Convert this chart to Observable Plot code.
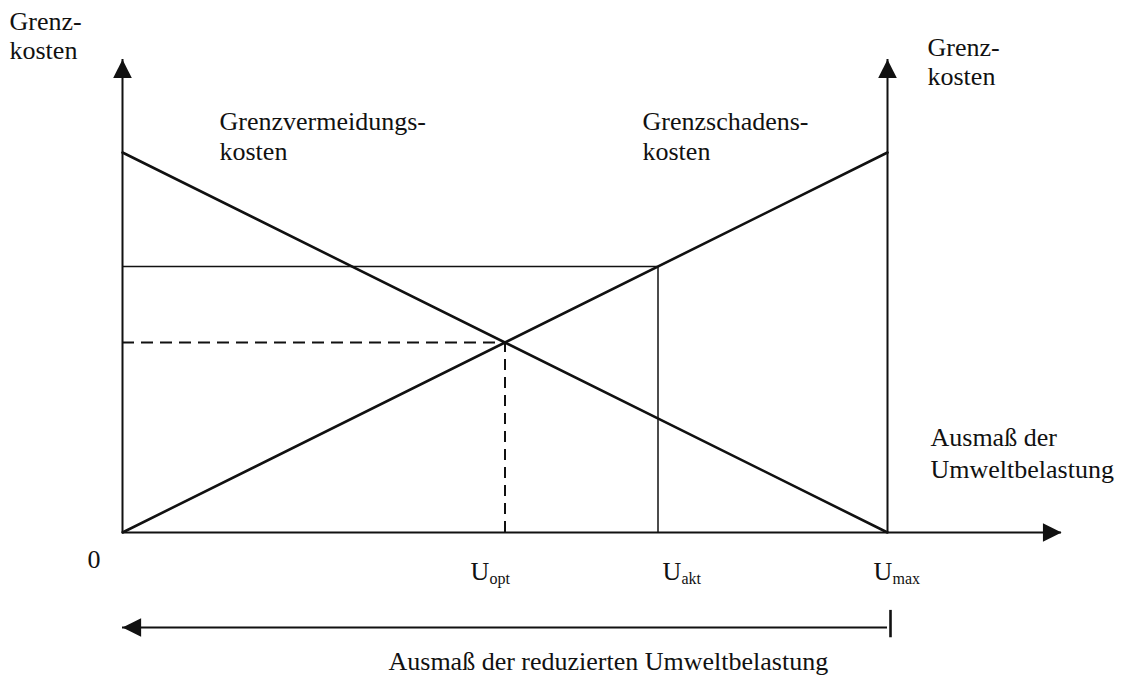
<!DOCTYPE html>
<html>
<head>
<meta charset="utf-8">
<script src="https://cdn.jsdelivr.net/npm/d3@7"></script>
<script src="https://cdn.jsdelivr.net/npm/@observablehq/plot@0.6"></script>
<style>
  html, body { margin: 0; padding: 0; background: #fff; }
  #chart { width: 1125px; height: 680px; }
</style>
</head>
<body>
<div id="chart"></div>
<script>
// ---- data ----
const U_MAX = 100;          // maximal environmental load
const U_OPT = 50;           // optimal load
const U_AKT = 70;           // current load
const K_OPT = 50;           // marginal cost at optimum
const K_AKT = 70;           // marginal damage cost at current load
const AXIS_TOP = 124.5;     // end of the cost axes
const AXIS_RIGHT = 122.75;  // end of the load axis
const REDUCTION_LEVEL = -25;// level of the "reduced load" arrow

const avoidanceCost = [ { u: 0, k: 100 }, { u: U_MAX, k: 0 } ];   // Grenzvermeidungskosten
const damageCost    = [ { u: 0, k: 0 },   { u: U_MAX, k: 100 } ]; // Grenzschadenskosten

const uLabels = [
  { sub: "opt", u: U_OPT },
  { sub: "akt", u: U_AKT },
  { sub: "max", u: U_MAX }
];

// ---- drawing ----
const ink = "#111";
const font = "'Liberation Serif', 'Times New Roman', serif";
const FS = 26;

// filled arrow head with its tip at the origin, pointing up
const arrowHead = {
  draw(ctx, size) {
    const s = Math.sqrt(size / Math.PI);
    ctx.moveTo(0, 0);
    ctx.lineTo(-s, 2 * s);
    ctx.lineTo(s, 2 * s);
    ctx.closePath();
  }
};

const txt = (data, opts) => Plot.text(data, {
  fontSize: FS, fill: ink, textAnchor: "start", lineAnchor: "bottom",
  lineHeight: 1.15, fontFamily: font, ...opts
});

const uOffsets = { opt: -34.5, akt: 4.5, max: -14 };

const chart = Plot.plot({
  width: 1125,
  height: 680,
  marginLeft: 122,
  marginRight: 238,
  marginTop: 152,
  marginBottom: 148,
  x: { domain: [0, U_MAX], axis: null },
  y: { domain: [0, 100], axis: null },
  style: { background: "#fff", color: ink, fontFamily: font, overflow: "visible" },
  marks: [
    // axes
    Plot.ruleX([0], { y1: 0, y2: AXIS_TOP, stroke: ink, strokeWidth: 2 }),
    Plot.ruleX([U_MAX], { y1: 0, y2: AXIS_TOP, stroke: ink, strokeWidth: 2 }),
    Plot.ruleY([0], { x1: 0, x2: AXIS_RIGHT, stroke: ink, strokeWidth: 2 }),
    Plot.dot([{ x: 0, y: AXIS_TOP }, { x: U_MAX, y: AXIS_TOP }], { x: "x", y: "y", symbol: arrowHead, r: 9.3, fill: ink, stroke: "none" }),
    Plot.dot([{ x: AXIS_RIGHT, y: 0 }], { x: "x", y: "y", symbol: arrowHead, r: 9.3, rotate: 90, fill: ink, stroke: "none" }),

    // current-load rectangle
    Plot.ruleY([K_AKT], { x1: 0, x2: U_AKT, stroke: ink, strokeWidth: 1.5 }),
    Plot.ruleX([U_AKT], { y1: 0, y2: K_AKT, stroke: ink, strokeWidth: 1.5 }),

    // optimum (dashed)
    Plot.ruleY([K_OPT], { x1: 0, x2: U_OPT, stroke: ink, strokeWidth: 2, strokeDasharray: "12,7" }),
    Plot.ruleX([U_OPT], { y1: 0, y2: K_OPT, stroke: ink, strokeWidth: 2, strokeDasharray: "11,7" }),

    // cost curves
    Plot.line(avoidanceCost, { x: "u", y: "k", stroke: ink, strokeWidth: 2.6 }),
    Plot.line(damageCost, { x: "u", y: "k", stroke: ink, strokeWidth: 2.6 }),

    // reduced-load arrow
    Plot.ruleY([REDUCTION_LEVEL], { x1: 0, x2: U_MAX, stroke: ink, strokeWidth: 2 }),
    Plot.dot([{ x: 0, y: REDUCTION_LEVEL }], { x: "x", y: "y", symbol: arrowHead, r: 9.3, rotate: -90, fill: ink, stroke: "none" }),
    Plot.ruleX([U_MAX], { y1: REDUCTION_LEVEL + 4.5, y2: REDUCTION_LEVEL - 2.7, dx: 3, stroke: ink, strokeWidth: 2.6 }),

    // texts
    txt([{ x: 0, y: AXIS_TOP }], { x: "x", y: "y", text: () => "Grenz-\nkosten", dx: -113, dy: 0 }),
    txt([avoidanceCost[0]], { x: "u", y: "k", text: () => "Grenzvermeidungs-\nkosten", dx: 97, dy: 7 }),
    txt([damageCost[1]], { x: "u", y: "k", text: () => "Grenzschadens-\nkosten", dx: -245, dy: 7 }),
    txt([{ x: U_MAX, y: AXIS_TOP }], { x: "x", y: "y", text: () => "Grenz-\nkosten", dx: 40, dy: 26 }),
    txt([{ x: U_MAX, y: 0 }], { x: "x", y: "y", text: () => "Ausmaß der\nUmweltbelastung", dx: 43, dy: -55, lineHeight: 1.22 }),
    txt([{ x: 0, y: 0 }], { x: "x", y: "y", text: () => "0", dx: -35, dy: 35 }),
    ...uLabels.map(d => txt([d], { x: "u", y: () => 0, text: () => "U", dx: uOffsets[d.sub], dy: 47 })),
    ...uLabels.map(d => txt([d], { x: "u", y: () => 0, text: "sub", dx: uOffsets[d.sub] + 19, dy: 51.5, fontSize: 16 })),
    txt([{ x: 0, y: REDUCTION_LEVEL }], { x: "x", y: "y", text: () => "Ausmaß der reduzierten Umweltbelastung", dx: 266, dy: 42 })
  ]
});

document.getElementById("chart").appendChild(chart);
</script>
</body>
</html>
